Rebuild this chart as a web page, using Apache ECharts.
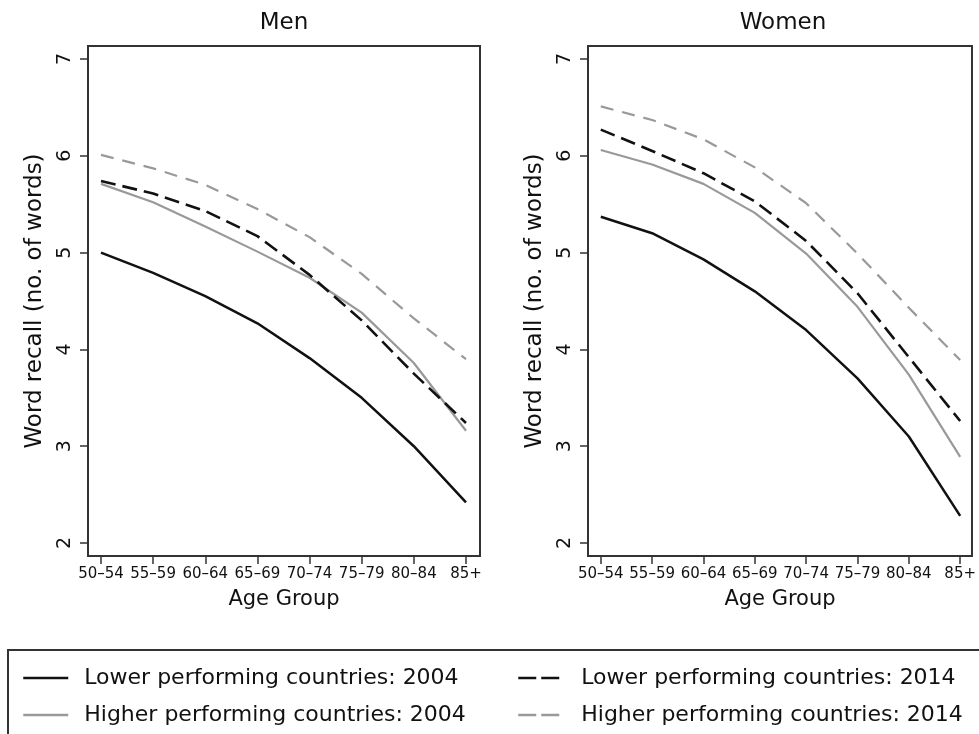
<!DOCTYPE html>
<html><head><meta charset="utf-8">
<script src="https://cdn.jsdelivr.net/npm/echarts@6/dist/echarts.min.js"></script>
<style>html,body{margin:0;padding:0;background:#fff}#c{width:979px;height:734px}</style>
</head><body><div id="c"></div>
<script>
// ---- data ----
const categories = ['50–54','55–59','60–64','65–69','70–74','75–79','80–84','85+'];
const yTicks = [2, 3, 4, 5, 6, 7];
const panelTitles = ['Men', 'Women'];
const seriesNames = [
  'Lower performing countries: 2004',
  'Higher performing countries: 2004',
  'Lower performing countries: 2014',
  'Higher performing countries: 2014'
];
const menLower2004   = [5.00, 4.79, 4.55, 4.27, 3.91, 3.50, 3.00, 2.42];
const menHigher2004  = [5.71, 5.52, 5.27, 5.01, 4.74, 4.38, 3.86, 3.16];
const menLower2014   = [5.74, 5.61, 5.43, 5.17, 4.77, 4.30, 3.75, 3.24];
const menHigher2014  = [6.01, 5.87, 5.70, 5.45, 5.16, 4.78, 4.32, 3.90];
const womenLower2004  = [5.37, 5.20, 4.93, 4.60, 4.20, 3.70, 3.10, 2.28];
const womenHigher2004 = [6.06, 5.91, 5.71, 5.41, 4.99, 4.44, 3.74, 2.89];
const womenLower2014  = [6.27, 6.05, 5.82, 5.53, 5.12, 4.58, 3.92, 3.26];
const womenHigher2014 = [6.51, 6.37, 6.17, 5.88, 5.51, 4.99, 4.43, 3.89];

// ---- styling ----
const FONT = 'DejaVu Sans';
const TXT = '#111';
const FRAME = '#333';
const styles = [
  {color: '#111', type: 'solid', width: 2.5},
  {color: '#999', type: 'solid', width: 2.2},
  {color: '#111', type: [15, 7], width: 2.6},
  {color: '#999', type: [13, 9], width: 2.2}
];
const panelData = [
  [menLower2004, menHigher2004, menLower2014, menHigher2014],
  [womenLower2004, womenHigher2004, womenLower2014, womenHigher2014]
];
const xIdx = categories.map((_, i) => i);

const grids = [
  {left: 88, top: 46, width: 392, height: 510},
  {left: 588, top: 46, width: 390, height: 510}
];

const chart = echarts.init(document.getElementById('c'), null, {renderer: 'canvas'});

const xAxes = grids.map((g, gi) => ({
  type: 'value', gridIndex: gi, min: -0.249, max: gi === 0 ? 7.269 : 7.23,
  axisLine: {show: true, onZero: false, lineStyle: {color: FRAME, width: 2}},
  axisTick: {show: true, length: 8, customValues: xIdx, lineStyle: {color: FRAME, width: 1.5}},
  axisLabel: {customValues: xIdx, formatter: v => categories[Math.round(v)], margin: 11,
    fontSize: 15, fontFamily: FONT, color: TXT},
  splitLine: {show: false},
  name: 'Age Group', nameLocation: 'middle', nameGap: 33,
  nameTextStyle: {fontSize: 21, fontFamily: FONT, color: TXT}
}));
const yAxes = grids.map((g, gi) => ({
  type: 'value', gridIndex: gi, min: 1.866, max: 7.134,
  axisLine: {show: true, onZero: false, lineStyle: {color: FRAME, width: 2}},
  axisTick: {show: true, length: 8, customValues: yTicks, lineStyle: {color: FRAME, width: 1.5}},
  axisLabel: {customValues: yTicks, rotate: 90, margin: 13, fontSize: 19, fontFamily: FONT, color: TXT},
  splitLine: {show: false},
  name: 'Word recall (no. of words)', nameLocation: 'middle', nameGap: 41,
  nameTextStyle: {fontSize: 23, fontFamily: FONT, color: TXT}
}));

const series = [];
panelData.forEach((arrs, gi) => {
  arrs.forEach((arr, si) => {
    series.push({
      type: 'line', name: seriesNames[si], xAxisIndex: gi, yAxisIndex: gi,
      data: arr.map((v, i) => [xIdx[i], v]),
      symbol: 'none', smooth: false, animation: false,
      lineStyle: {color: styles[si].color, type: styles[si].type, width: styles[si].width},
      itemStyle: {color: styles[si].color},
      z: si % 2 === 0 ? 3 : 2
    });
  });
});

const legendText = (pad) => ({fontSize: 22, fontFamily: FONT, color: TXT, padding: [0, 0, 0, pad]});

chart.setOption({
  backgroundColor: '#fff',
  animation: false,
  grid: grids.map(g => Object.assign({show: true, borderColor: FRAME, borderWidth: 2, backgroundColor: 'transparent'}, g)),
  xAxis: xAxes,
  yAxis: yAxes,
  series: series,
  legend: [
    {left: 22, top: 667, orient: 'vertical', itemWidth: 45, itemHeight: 14, itemGap: 15, padding: 0,
     selectedMode: false, data: [seriesNames[0], seriesNames[1]], textStyle: legendText(11),
     itemStyle: {opacity: 0}, lineStyle: {type: 'solid', width: 2.5}},
    {left: 517, top: 667, orient: 'vertical', itemWidth: 41, itemHeight: 14, itemGap: 15, padding: 0,
     selectedMode: false, data: [seriesNames[2], seriesNames[3]], textStyle: legendText(17),
     itemStyle: {opacity: 0}, lineStyle: {type: [18, 5], width: 2.5}}
  ],
  graphic: [
    {type: 'text', x: 284, y: 12, silent: true,
     style: {text: panelTitles[0], fontSize: 23, fontFamily: FONT, fill: TXT, textAlign: 'center', align: 'center', textVerticalAlign: 'top', verticalAlign: 'top'}},
    {type: 'text', x: 783, y: 12, silent: true,
     style: {text: panelTitles[1], fontSize: 23, fontFamily: FONT, fill: TXT, textAlign: 'center', align: 'center', textVerticalAlign: 'top', verticalAlign: 'top'}},
    {type: 'rect', silent: true, shape: {x: 8, y: 650, width: 1000, height: 120},
     style: {fill: 'none', stroke: FRAME, lineWidth: 2}}
  ]
});
</script></body></html>
